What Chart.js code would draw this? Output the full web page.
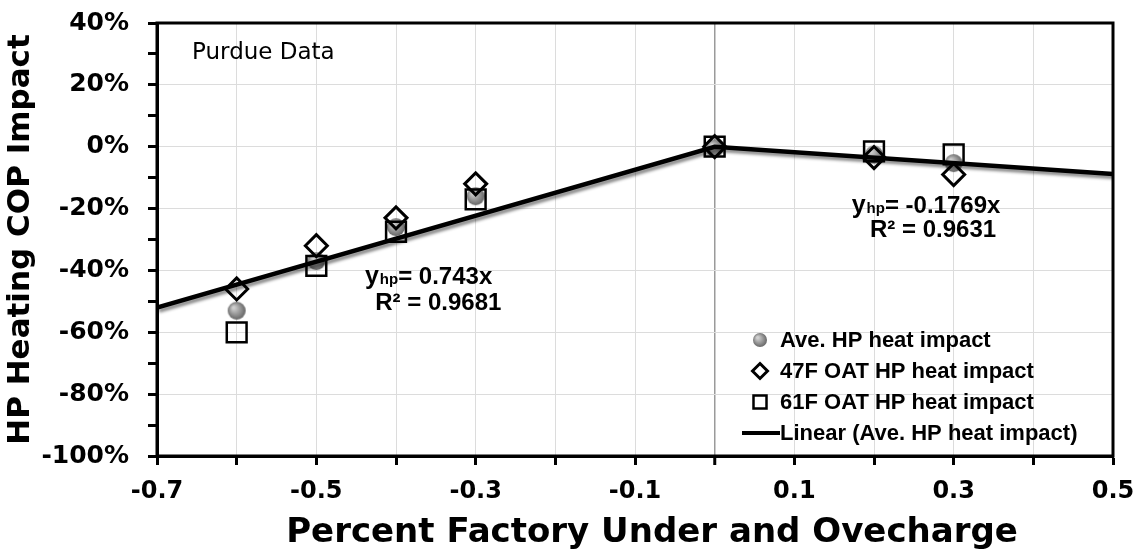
<!DOCTYPE html>
<html>
<head>
<meta charset="utf-8">
<script src="https://cdn.jsdelivr.net/npm/chart.js@4"></script>
<style>
  html, body { margin: 0; padding: 0; background: #fff; }
  #wrap { width: 1136px; height: 555px; }
</style>
</head>
<body>
<div id="wrap"><canvas id="chart" width="1136" height="555"></canvas></div>
<script>
// charge level (fraction under / over factory charge)
const chargeLevels = [-0.6, -0.5, -0.4, -0.3, 0, 0.2, 0.3]
// COP impact in %
const aveImpact = [-53, -37, -26, -16, -0.5, -2.5, -5.3]
const oat47Impact = [-46, -32, -23, -12, 0, -3.5, -9]
const oat61Impact = [-60, -38.5, -27.5, -17, 0, -1.5, -2.5]
// linear fit of the average, read at the axis ends and the break at 0
const fitX = [-0.7, 0, 0.5]
const fitY = [-52, 0, -8.8]

const seriesNames = [
    "Ave. HP heat impact",
    "47F OAT HP heat impact",
    "61F OAT HP heat impact",
    "Linear (Ave. HP heat impact)"
]
const xTitle = "Percent Factory Under and Ovecharge"
const fitLabels = [
    { coef: "0.743x", r2: "R\u00b2 = 0.9681", x: -0.439, y: -44.4, rx: -0.426, ry: -52.8 },
    { coef: "-0.1769x", r2: "R\u00b2 = 0.9631", x: 0.172, y: -21.4, rx: 0.195, ry: -29.2 }
]

const ARIAL = "'Liberation Sans', Arial, sans-serif"
const DEJAVU = "'DejaVu Sans', sans-serif"

/**
 * Shaded gray ball used as the average marker
 * @param {Number} r radius
 * @returns {HTMLCanvasElement}
 */
function makeBall(r) {
    const c = document.createElement("canvas")
    c.width = c.height = 2 * r + 2
    const g = c.getContext("2d")
    const grad = g.createRadialGradient(r + 1 - r * 0.35, r + 1 - r * 0.35, 1, r + 1, r + 1, r + 1)
    grad.addColorStop(0, "#cfcfcf")
    grad.addColorStop(1, "#5c5c5c")
    g.fillStyle = grad
    g.beginPath()
    g.arc(r + 1, r + 1, r, 0, Math.PI * 2)
    g.fill()
    return c
}

const ball = makeBall(9)
const smallBall = makeBall(7)

function points(ys) {
    return chargeLevels.map((x, i) => ({ x, y: ys[i] }))
}

// frame, annotations and the in-plot legend
const decorations = {
    id: "decorations",
    beforeDatasetDraw(chart, args) {
        if (args.index === 3) {
            const ctx = chart.ctx
            ctx.save()
            ctx.shadowColor = "rgba(0,0,0,0.45)"
            ctx.shadowOffsetX = 2
            ctx.shadowOffsetY = 3
            ctx.shadowBlur = 3
        }
    },
    afterDatasetDraw(chart, args) {
        if (args.index === 3) chart.ctx.restore()
    },
    afterDraw(chart) {
        const ctx = chart.ctx
        const { left, right, top, bottom } = chart.chartArea
        const xs = chart.scales.x
        const ys = chart.scales.y
        ctx.save()

        // x axis title, a bit right of the plot centre as in the original
        ctx.fillStyle = "#000"
        ctx.textAlign = "center"
        ctx.textBaseline = "alphabetic"
        ctx.font = `bold 34px ${DEJAVU}`
        ctx.fillText(xTitle, (left + right) / 2 + 17, 542)

        // Purdue Data
        ctx.textAlign = "left"
        ctx.font = `23px ${DEJAVU}`
        ctx.fillText("Purdue Data", xs.getPixelForValue(-0.656), ys.getPixelForValue(28.4))

        // fit equations
        fitLabels.forEach(f => {
            let px = xs.getPixelForValue(f.x)
            const py = ys.getPixelForValue(f.y)
            ctx.font = `bold 25px ${ARIAL}`
            ctx.fillText("y", px, py)
            px += ctx.measureText("y").width + 1
            ctx.font = `bold 15px ${ARIAL}`
            ctx.fillText("hp", px, py)
            px += ctx.measureText("hp").width
            ctx.font = `bold 24px ${ARIAL}`
            ctx.fillText("= " + f.coef, px, py)
            ctx.fillText(f.r2, xs.getPixelForValue(f.rx), ys.getPixelForValue(f.ry))
        })

        // legend
        const lx = right - 353
        const tx = right - 333
        const rows = [bottom - 116, bottom - 85, bottom - 54, bottom - 23]
        ctx.font = `bold 22px ${ARIAL}`
        ctx.textBaseline = "middle"
        ctx.drawImage(smallBall, lx - smallBall.width / 2, rows[0] - smallBall.height / 2)
        ctx.strokeStyle = "#000"
        ctx.lineWidth = 3
        ctx.beginPath()
        ctx.moveTo(lx, rows[1] - 7.5)
        ctx.lineTo(lx + 7.5, rows[1])
        ctx.lineTo(lx, rows[1] + 7.5)
        ctx.lineTo(lx - 7.5, rows[1])
        ctx.closePath()
        ctx.stroke()
        ctx.lineWidth = 2.5
        ctx.strokeRect(lx - 6.5, rows[2] - 6.5, 13, 13)
        ctx.lineWidth = 4
        ctx.beginPath()
        ctx.moveTo(right - 371, rows[3])
        ctx.lineTo(tx, rows[3])
        ctx.stroke()
        seriesNames.forEach((name, i) => ctx.fillText(name, tx, rows[i] + 1))

        // plot frame
        ctx.lineWidth = 3
        ctx.strokeRect(left, top, right - left, bottom - top)
        ctx.restore()
    }
}

function main() {
    const ctx = document.getElementById("chart")
    new Chart(ctx, {
        type: "scatter",
        data: {
            datasets: [
                {
                    label: seriesNames[0],
                    data: points(aveImpact),
                    pointStyle: ball,
                    pointRadius: 9,
                    order: 3
                },
                {
                    label: seriesNames[1],
                    data: points(oat47Impact),
                    pointStyle: "rectRot",
                    pointRadius: 11,
                    pointBorderWidth: 3,
                    pointBorderColor: "#000",
                    pointBackgroundColor: "rgba(255,255,255,0)",
                    order: 2
                },
                {
                    label: seriesNames[2],
                    data: points(oat61Impact),
                    pointStyle: "rect",
                    pointRadius: 14,
                    pointBorderWidth: 2.5,
                    pointBorderColor: "#000",
                    pointBackgroundColor: "rgba(255,255,255,0)",
                    order: 1
                },
                {
                    label: seriesNames[3],
                    type: "line",
                    data: fitX.map((x, i) => ({ x, y: fitY[i] })),
                    borderColor: "#000",
                    borderWidth: 4.5,
                    pointRadius: 0,
                    tension: 0,
                    order: 0
                }
            ]
        },
        options: {
            responsive: false,
            animation: false,
            layout: { padding: { top: 23, right: 23, left: 0, bottom: 0 } },
            plugins: {
                legend: { display: false },
                tooltip: { enabled: false }
            },
            scales: {
                x: {
                    type: "linear",
                    min: -0.7,
                    max: 0.5,
                    afterFit(scale) {
                        scale.height = 99
                        scale.paddingLeft = 0
                        scale.paddingRight = 0
                    },
                    border: { display: true, color: "#000", width: 3 },
                    grid: {
                        color: c => Math.round(c.tick.value * 10) === 0 ? "#9a9a9a" : "#dcdcdc",
                        lineWidth: c => Math.round(c.tick.value * 10) === 0 ? 1.5 : 1,
                        tickColor: "#000",
                        tickWidth: 3,
                        tickLength: 9
                    },
                    ticks: {
                        stepSize: 0.1,
                        autoSkip: false,
                        maxRotation: 0,
                        padding: 12,
                        color: "#000",
                        font: { family: DEJAVU, size: 24, weight: "bold" },
                        callback: v => Math.abs(Math.round(v * 10)) % 2 === 1 ? (Math.round(v * 10) / 10).toFixed(1) : ""
                    }
                },
                y: {
                    min: -100,
                    max: 40,
                    afterFit(scale) {
                        scale.width = 157
                        scale.paddingTop = 0
                        scale.paddingBottom = 0
                    },
                    border: { display: true, color: "#000", width: 3 },
                    grid: {
                        color: c => Math.round(c.tick.value) % 20 === 0 ? "#dcdcdc" : "rgba(0,0,0,0)",
                        tickColor: "#000",
                        tickWidth: 3,
                        tickLength: 9
                    },
                    ticks: {
                        stepSize: 10,
                        autoSkip: false,
                        padding: 19,
                        color: "#000",
                        font: { family: DEJAVU, size: 25, weight: "bold" },
                        callback: v => Math.round(v) % 20 === 0 ? Math.round(v) + "%" : ""
                    },
                    title: {
                        display: true,
                        text: "HP Heating COP Impact",
                        color: "#000",
                        font: { family: DEJAVU, size: 31, weight: "bold" },
                        padding: { top: 2, bottom: 0 }
                    }
                }
            }
        },
        plugins: [decorations]
    })
}

window.onload = main
</script>
</body>
</html>
